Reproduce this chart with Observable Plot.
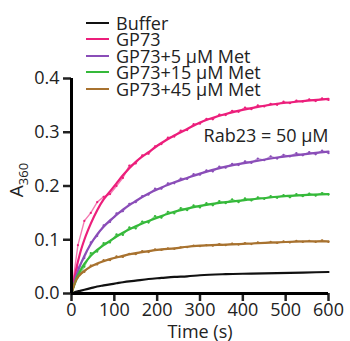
<!DOCTYPE html>
<html><head><meta charset="utf-8">
<script src="https://cdn.jsdelivr.net/npm/d3@7"></script>
<script src="https://cdn.jsdelivr.net/npm/@observablehq/plot@0.6"></script>
<style>
body{margin:0;background:#fff;}
#wrap{position:relative;width:350px;height:341px;font-family:"Open Sans",sans-serif;color:#222;}
#legend{position:absolute;left:86px;top:15px;font-size:18px;line-height:16px;}
.row{display:flex;align-items:center;height:16px;margin-bottom:0.4px;white-space:nowrap}
.row span{display:inline-block;height:16px;line-height:16px;overflow:visible}
.sw{width:23px;height:0;border-top:2.5px solid;margin-right:7px}
</style></head><body><div id="wrap"><div id="legend"></div></div>
<script>
const seriesNames = ["Buffer", "GP73", "GP73+5 µM Met", "GP73+15 µM Met", "GP73+45 µM Met"];
const seriesColors = ["#111111", "#ec1e7b", "#8a4db8", "#35b93a", "#a8722f"];
const xTicks = [0, 100, 200, 300, 400, 500, 600];
const yTicks = [0.0, 0.1, 0.2, 0.3, 0.4];
const xLabel = "Time (s)";
const yLabelMain = "A";
const yLabelSub = "360";
const annotation = [{x: 600, y: 0.292, text: "Rab23 = 50 µM"}];

// fitted curves
const fitTimes = [0,10,20,30,45,60,75,90,105,120,150,180,210,240,270,300,360,420,480,540,600];
const fitBuffer = [0,0.003,0.005,0.007,0.010,0.013,0.015,0.017,0.019,0.021,0.024,0.027,0.029,0.031,0.032,0.034,0.036,0.037,0.038,0.039,0.040];
const fitGP73 = [0,0.042,0.075,0.100,0.130,0.155,0.175,0.190,0.205,0.220,0.245,0.263,0.280,0.294,0.306,0.318,0.334,0.345,0.353,0.358,0.362];
const fitMet5 = [0,0.030,0.052,0.070,0.092,0.110,0.124,0.136,0.146,0.156,0.172,0.186,0.197,0.207,0.215,0.223,0.236,0.245,0.253,0.259,0.264];
const fitMet15 = [0,0.025,0.042,0.055,0.070,0.081,0.090,0.098,0.106,0.113,0.125,0.135,0.144,0.152,0.158,0.163,0.170,0.175,0.180,0.183,0.185];
const fitMet45 = [0,0.024,0.035,0.042,0.050,0.056,0.060,0.064,0.067,0.070,0.075,0.079,0.082,0.084,0.087,0.089,0.091,0.093,0.095,0.097,0.097];

// raw measurements
const rawTimes = [0,15,30,45,60,75,90,105,120,135,150,165,180,195,210,225,240,255,270,285,300,315,330,345,360,375,390,405,420,435,450,465,480,495,510,525,540,555,570,585,600];
const rawGP73 = [0.002,0.090,0.135,0.150,0.170,0.180,0.185,0.200,0.215,0.238,0.242,0.257,0.260,0.274,0.278,0.290,0.292,0.303,0.304,0.315,0.316,0.325,0.324,0.333,0.332,0.340,0.338,0.346,0.343,0.350,0.348,0.353,0.351,0.357,0.354,0.359,0.357,0.361,0.358,0.363,0.360];
const rawMet5 = [0.001,0.048,0.066,0.095,0.107,0.127,0.133,0.149,0.153,0.167,0.170,0.181,0.184,0.195,0.195,0.205,0.205,0.214,0.213,0.222,0.221,0.229,0.227,0.236,0.234,0.241,0.239,0.246,0.243,0.251,0.248,0.255,0.251,0.258,0.255,0.261,0.257,0.263,0.259,0.266,0.261];
const rawMet15 = [0.002,0.030,0.050,0.075,0.078,0.094,0.095,0.110,0.109,0.123,0.121,0.134,0.132,0.144,0.141,0.152,0.149,0.159,0.155,0.164,0.160,0.168,0.164,0.172,0.168,0.175,0.170,0.177,0.173,0.179,0.176,0.181,0.178,0.183,0.179,0.185,0.181,0.186,0.182,0.187,0.184];
const rawMet45 = [0.001,0.033,0.040,0.052,0.054,0.062,0.062,0.069,0.068,0.074,0.073,0.079,0.077,0.082,0.081,0.084,0.083,0.086,0.086,0.089,0.088,0.090,0.089,0.092,0.090,0.093,0.091,0.094,0.092,0.095,0.094,0.096,0.094,0.097,0.095,0.098,0.096,0.098,0.096,0.099,0.096];

const fits = [fitBuffer, fitGP73, fitMet5, fitMet15, fitMet45];
const raws = [null, rawGP73, rawMet5, rawMet15, rawMet45];

const fitData = fits.flatMap((arr, i) => arr.map((v, j) => ({t: fitTimes[j], v, s: seriesNames[i]})));
const rawData = raws.flatMap((arr, i) => arr ? arr.map((v, j) => ({t: rawTimes[j], v, s: seriesNames[i]})) : []);

const color = {domain: seriesNames, range: seriesColors};

const chart = Plot.plot({
  width: 350, height: 341,
  marginLeft: 71, marginRight: 22, marginTop: 78, marginBottom: 48,
  style: {fontFamily: "'Open Sans', sans-serif", fontSize: "18px", color: "#222", background: "transparent"},
  x: {domain: [0, 600]},
  y: {domain: [0, 0.4]},
  color,
  marks: [
    Plot.line(rawData, {x: "t", y: "v", z: "s", stroke: "s", strokeWidth: 1.4, strokeOpacity: 0.6}),
    Plot.dot(rawData, {x: "t", y: "v", fill: "s", r: 1.1, stroke: null}),
    Plot.line(fitData, {x: "t", y: "v", z: "s", stroke: "s", strokeWidth: 2.2, curve: "monotone-x"}),
    Plot.axisX({ticks: xTicks, tickSize: 8, tickPadding: 2, strokeWidth: 2.5, label: xLabel, labelAnchor: "center", labelArrow: "none", labelOffset: 44, fill: "#222"}),
    Plot.axisY({ticks: yTicks, tickSize: 8, tickPadding: 4, strokeWidth: 2.5, tickFormat: d3.format(".1f"), label: null, fill: "#222"}),
    Plot.ruleX([0], {y1: 0, y2: 0.4, strokeWidth: 3, stroke: "#000"}),
    Plot.ruleY([0], {strokeWidth: 3, stroke: "#000"}),
    Plot.text(annotation, {x: "x", y: "y", text: "text", textAnchor: "end", fontSize: 18, fill: "#222"})
  ]
});

const wrap = document.getElementById("wrap");
wrap.insertBefore(chart, wrap.firstChild);

// y-axis label with subscript
const yl = d3.select(chart).append("text")
  .attr("transform", "translate(23,180) rotate(-90)")
  .attr("text-anchor", "middle")
  .attr("fill", "#222")
  .attr("font-size", 19);
yl.append("tspan").text(yLabelMain);
yl.append("tspan").attr("font-size", 13).attr("dy", "0.35em").text(yLabelSub);

// legend
const legend = d3.select("#legend");
seriesNames.forEach((n, i) => {
  const row = legend.append("div").attr("class", "row");
  row.append("div").attr("class", "sw").style("border-color", seriesColors[i]);
  row.append("span").text(n);
});
</script>
</body></html>
